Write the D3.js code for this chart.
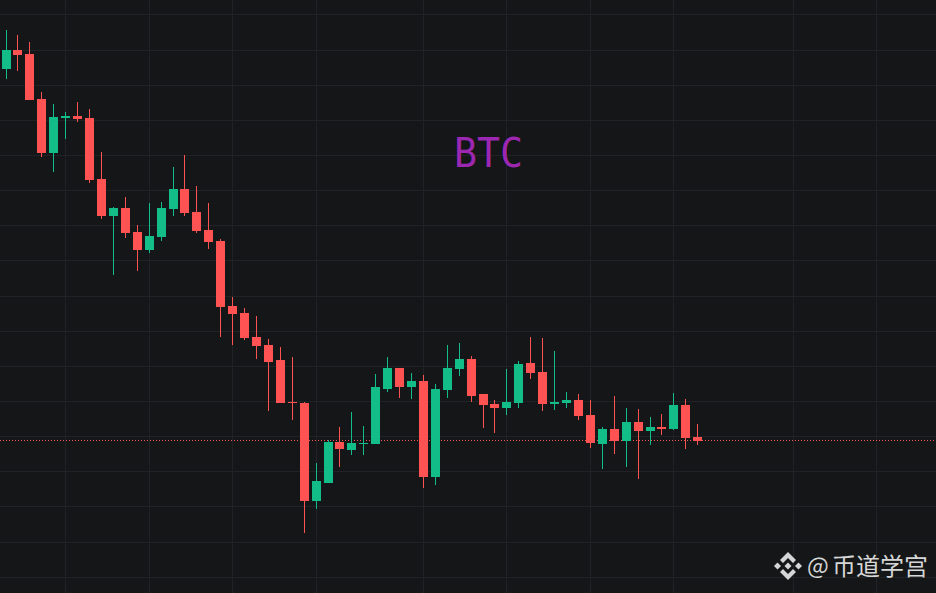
<!DOCTYPE html>
<html>
<head>
<meta charset="utf-8">
<title>BTC</title>
<script src="https://cdn.jsdelivr.net/npm/d3@7"></script>
<style>
  html, body { margin: 0; padding: 0; background: #141618; overflow: hidden; }
  svg { display: block; }
</style>
</head>
<body>
<svg id="chart"></svg>
<script>
// candles, no price axis there so the prices are estimates
const opens = [23310,23500,23460,23010,22470,22820,22840,22820,22210,21840,21920,21680,21500,21630,21910,22110,21880,21700,21590,20940,20870,20630,20550,20400,19980,19970,18990,19170,19580,19500,19560,19560,20110,20320,20130,20190,19230,20100,20310,20410,20060,19960,19920,19970,20370,20280,19960,19970,20000,19850,19560,19710,19590,19780,19690,19730,19710,19950,19630];
const closes = [23500,23450,23000,22470,22830,22840,22810,22200,21840,21920,21670,21500,21640,21920,22110,21870,21690,21580,20930,20860,20620,20540,20380,19970,19970,18990,19190,19580,19510,19570,19570,20130,20320,20130,20190,19230,20110,20320,20410,20040,19950,19920,19980,20360,20270,19960,19980,20000,19840,19570,19710,19590,19780,19690,19730,19710,19950,19620,19590];
const highs = [23700,23650,23580,23080,22960,22880,22980,22910,22480,21930,22030,21750,21970,21980,22330,22450,22140,21970,21610,21030,20920,20840,20610,20530,20430,19980,19370,19600,19730,19880,19740,20260,20430,20320,20270,20250,20160,20550,20570,20440,20060,20000,20310,20390,20630,20620,20490,20080,20060,20000,19730,20040,19920,19910,19830,19860,20070,20010,19760];
const lows = [23210,23290,23000,22430,22280,22610,22780,22170,21810,21250,21620,21290,21470,21590,21840,21840,21670,21510,20630,20550,20600,20410,19890,19970,19800,18670,18910,19170,19330,19450,19450,19560,20080,20020,20010,19120,19150,20020,20240,19980,19720,19670,19850,19920,20210,19890,19900,19920,19800,19520,19310,19460,19330,19210,19550,19650,19700,19510,19550];

const gridPrices = [23855,23495,23145,22795,22445,22095,21745,21395,21035,20685,20335,19985,19635,19285,18935,18575,18225];
const gridCandles = [5,12,19,26,35,42,49,56,66,73];
const lastPrice = 19595;

const width = 936, height = 593;
const upColor = '#13bd87', downColor = '#ff5252';

const candles = opens.map((o, i) => ({ i, open: o, close: closes[i], high: highs[i], low: lows[i] }));

const x = d3.scaleLinear().domain([0, 58]).range([6.05, 697.7]);
const y = d3.scaleLinear().domain([18070, 24000]).range([593, 0]);
const px = i => Math.floor(x(i));

const svg = d3.select('#chart').attr('width', width).attr('height', height).attr('viewBox', `0 0 ${width} ${height}`);
svg.append('rect').attr('width', width).attr('height', height).attr('fill', '#141618');

// Grid
const grid = svg.append('g').attr('stroke', '#202225').attr('stroke-width', 1).attr('shape-rendering', 'crispEdges');
grid.selectAll('line.h').data(gridPrices).enter().append('line')
  .attr('class', 'h')
  .attr('x1', 0).attr('x2', width)
  .attr('y1', d => y(d)).attr('y2', d => y(d));
grid.selectAll('line.v').data(gridCandles).enter().append('line')
  .attr('class', 'v')
  .attr('x1', d => px(d) + 0.5).attr('x2', d => px(d) + 0.5)
  .attr('y1', 0).attr('y2', height);

// Last price line
svg.append('line')
  .attr('x1', 0).attr('x2', width)
  .attr('y1', y(lastPrice)).attr('y2', y(lastPrice))
  .attr('stroke', downColor).attr('stroke-width', 1).attr('stroke-dasharray', '1 2')
  .attr('shape-rendering', 'crispEdges');

// Candles
const color = d => d.close >= d.open ? upColor : downColor;
const g = svg.append('g').attr('shape-rendering', 'crispEdges');
g.selectAll('rect.wick').data(candles).enter().append('rect')
  .attr('class', 'wick')
  .attr('x', d => px(d.i)).attr('width', 1)
  .attr('y', d => y(d.high)).attr('height', d => y(d.low) - y(d.high))
  .attr('fill', color);
g.selectAll('rect.body').data(candles).enter().append('rect')
  .attr('class', 'body')
  .attr('x', d => px(d.i) - 4).attr('width', 9)
  .attr('y', d => y(Math.max(d.open, d.close)))
  .attr('height', d => Math.max(1, Math.abs(y(d.open) - y(d.close))))
  .attr('fill', color);

// Title
svg.append('text')
  .attr('x', 454).attr('y', 167)
  .attr('font-family', '"DejaVu Sans Mono", monospace')
  .attr('font-size', 40)
  .attr('textLength', 69).attr('lengthAdjust', 'spacingAndGlyphs')
  .attr('fill', '#9c27b0')
  .text('BTC');

// Watermark: logo + handle
const logo = svg.append('g').attr('transform', 'translate(788,566)').attr('fill', '#d6d6d6');
[
  'M0,-14 L8,-6 L5,-3 L0,-8 L-5,-3 L-8,-6 Z',
  'M0,14 L8,6 L5,3 L0,8 L-5,3 L-8,6 Z',
  'M-14,0 L-10.5,-3.5 L-7,0 L-10.5,3.5 Z',
  'M14,0 L10.5,-3.5 L7,0 L10.5,3.5 Z',
  'M0,-3.5 L3.5,0 L0,3.5 L-3.5,0 Z'
].forEach(d => logo.append('path').attr('d', d));

const mark = svg.append('g')
  .attr('font-family', '"Noto Sans CJK SC", sans-serif')
  .attr('fill', '#d6d6d6');
mark.append('text').attr('x', 807).attr('y', 574).attr('font-size', 23).text('@');
mark.append('text').attr('x', 832).attr('y', 575).attr('font-size', 24).text('币道学宫');
</script>
</body>
</html>
